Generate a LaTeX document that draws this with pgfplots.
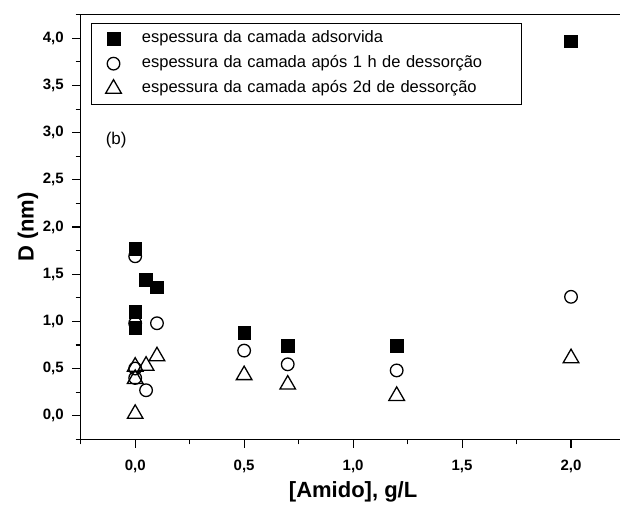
\documentclass[border=0pt]{standalone}
\usepackage{pgfplots}
\pgfplotsset{compat=1.18}
\usepackage{fontspec}
\setmainfont{Liberation Sans}

% film thickness D (nm) versus starch concentration (g/L)
\pgfplotstableread{
x y
0.00 1.77
0.00 1.10
0.00 0.93
0.05 1.44
0.10 1.36
0.50 0.88
0.70 0.74
1.20 0.74
2.00 3.97
}\adsorvida
\pgfplotstableread{
x y
0.00 1.69
0.00 0.98
0.10 0.98
0.00 0.50
0.00 0.40
0.05 0.27
0.50 0.69
0.70 0.545
1.20 0.48
2.00 1.26
}\umahora
\pgfplotstableread{
x y
0.00 0.52
0.05 0.53
0.10 0.63
0.00 0.39
0.00 0.02
0.50 0.43
0.70 0.33
1.20 0.21
2.00 0.61
}\doisdias

\begin{document}
\begin{tikzpicture}
\begin{axis}[
  name=ax,
  scale only axis,
  width=544.8pt, height=424.6pt,
  xmin=-0.25, xmax=2.25,
  ymin=-0.25, ymax=4.25,
  xtick={0,0.5,...,2.0},
  ytick={0,0.5,...,4.0},
  minor xtick={-0.25,0.25,0.75,1.25,1.75,2.25},
  minor ytick={-0.25,0.25,...,4.25},
  tick align=outside,
  tick pos=left,
  major tick length=8.5pt,
  minor tick length=5pt,
  axis line style={line width=1.2pt},
  every tick/.style={line width=1.1pt, black},
  /pgf/number format/.cd, use comma, fixed, fixed zerofill, precision=1, assume math mode=true,
  /pgfplots/.cd,
  tick label style={font=\bfseries\fontsize{15}{18}\selectfont},
  xticklabel style={yshift=-9pt},
  yticklabel style={xshift=-5pt},
  xlabel={[Amido], g/L},
  ylabel={D (nm)},
  every axis x label/.style={at={(rel axis cs:0.5,0)}, anchor=center, yshift=-53pt,
    font=\bfseries\fontsize{22}{26}\selectfont},
  every axis y label/.style={at={(rel axis cs:0,0.5)}, anchor=center, rotate=90, yshift=52.7pt,
    font=\bfseries\fontsize{22}{26}\selectfont},
  legend cell align=left,
  legend style={at={(rel axis cs:0.0184,0.981)}, anchor=north west,
    draw=black, line width=0.8pt, font=\fontsize{16.5}{19}\selectfont,
    inner xsep=3pt, inner ysep=5.5pt, row sep=5pt,
    nodes={text height=12pt, text depth=4pt},
    text width=374pt},
  legend image code/.code={\draw[#1] plot coordinates {(0pt,0pt)}; \path (-19pt,0pt) (26pt,0pt);},
  clip=false,
]
\addplot[only marks, mark=square*, mark size=6.3pt, mark options={fill=black, draw=black, line width=0.6pt}]
  table[x=x,y=y] {\adsorvida};
\addlegendentry{espessura da camada adsorvida}
\addplot[only marks, mark=o, mark size=6.3pt, mark options={draw=black, fill=white, line width=1.3pt}]
  table[x=x,y=y] {\umahora};
\addlegendentry{espessura da camada após 1 h de dessorção}
\addplot[only marks, mark=triangle, mark size=9pt, mark options={draw=black, line width=1.3pt}]
  table[x=x,y=y] {\doisdias};
\addlegendentry{espessura da camada após 2d de dessorção}
\node[font=\fontsize{17}{20}\selectfont] at (axis cs:-0.087,2.92) {(b)};
\end{axis}
\pgfresetboundingbox
\path ([shift={(-80.7pt,-67.7pt)}]ax.south west) rectangle ([shift={(539.3pt,439.3pt)}]ax.south west);
\end{tikzpicture}
\end{document}
